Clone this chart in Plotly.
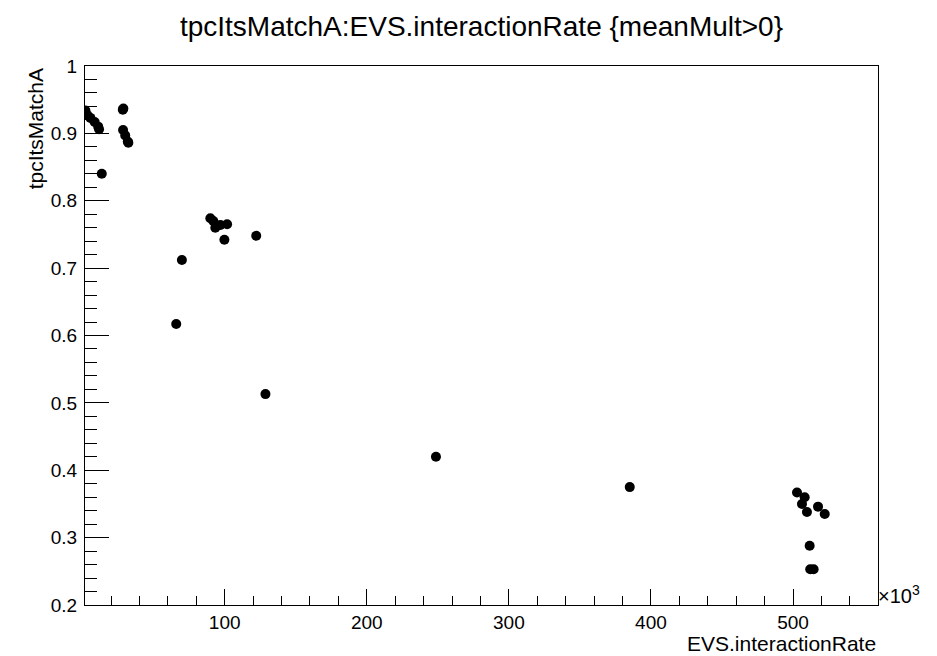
import plotly.graph_objects as go

# EVS.interactionRate (Hz) and tpcItsMatchA values
interaction_rate = [2000, 3500, 5500, 8500, 11000, 11600, 13500,
                    28300, 28700, 28500, 30000, 31800, 32200,
                    89900, 92000, 93400, 97000, 99800, 101700, 122200,
                    69900, 65900, 128700, 248700, 385100,
                    502800, 508200, 506300, 509800, 517600, 522300,
                    511700, 512100, 514500]
tpc_its_match_a = [0.934, 0.927, 0.923, 0.917, 0.910, 0.906, 0.840,
                   0.935, 0.937, 0.905, 0.897, 0.888, 0.886,
                   0.774, 0.770, 0.760, 0.764, 0.742, 0.765, 0.748,
                   0.712, 0.617, 0.513, 0.420, 0.375,
                   0.367, 0.360, 0.350, 0.338, 0.346, 0.335,
                   0.288, 0.253, 0.253]

title_text = "tpcItsMatchA:EVS.interactionRate {meanMult>0}"
x_title = "EVS.interactionRate"
y_title = "tpcItsMatchA"

FONT = "Liberation Sans, Arial, Helvetica, sans-serif"

x_k = [v / 1000.0 for v in interaction_rate]

fig = go.Figure()
fig.add_trace(go.Scatter(
    x=x_k, y=tpc_its_match_a, mode="markers",
    marker=dict(color="black", size=10, symbol="circle", line=dict(width=0)),
    showlegend=False, hoverinfo="x+y"))

fig.update_layout(
    width=937, height=656,
    margin=dict(l=85, r=59, t=66, b=51),
    paper_bgcolor="white", plot_bgcolor="white",
    font=dict(family=FONT, color="black", size=19),
    title=dict(text=title_text, xref="paper", x=0.5, xanchor="center",
               y=0.96, yanchor="middle",
               font=dict(family=FONT, size=28, color="black")),
    xaxis=dict(range=[1.7, 559.8], tick0=0, dtick=100, ticks="inside", ticklen=16,
               tickwidth=1, tickcolor="black", showline=True, linecolor="black",
               linewidth=1, mirror=True, showgrid=False, zeroline=False,
               tickfont=dict(size=19, family=FONT),
               minor=dict(dtick=20, tick0=0, ticks="inside", ticklen=9,
                          tickcolor="black", tickwidth=1, showgrid=False)),
    yaxis=dict(range=[0.2, 1.0], tick0=0, dtick=0.1, ticks="inside", ticklen=24,
               tickwidth=1, tickcolor="black", showline=True, linecolor="black",
               linewidth=1, mirror=True, showgrid=False, zeroline=False,
               tickfont=dict(size=19, family=FONT), tickformat="~g",
               ticklabelstandoff=3,
               minor=dict(dtick=0.02, tick0=0, ticks="inside", ticklen=12,
                          tickcolor="black", tickwidth=1, showgrid=False)),
    annotations=[
        dict(text=y_title, xref="paper", yref="paper", x=-0.062, y=1.0,
             xanchor="center", yanchor="top", textangle=-90, showarrow=False,
             font=dict(size=21, family=FONT)),
        dict(text=x_title, xref="paper", yref="paper", x=1.0, y=-0.072,
             xanchor="right", yanchor="middle", showarrow=False,
             font=dict(size=21, family=FONT)),
        dict(text="×10<sup>3</sup>", xref="paper", yref="paper", x=1.0, y=0.0,
             xanchor="left", yanchor="bottom", showarrow=False, yshift=-4, xshift=-2,
             font=dict(size=20, family=FONT)),
    ],
)

fig.write_html("out.html", config={"displayModeBar": False},
               post_script="document.body.style.margin='0px';")
